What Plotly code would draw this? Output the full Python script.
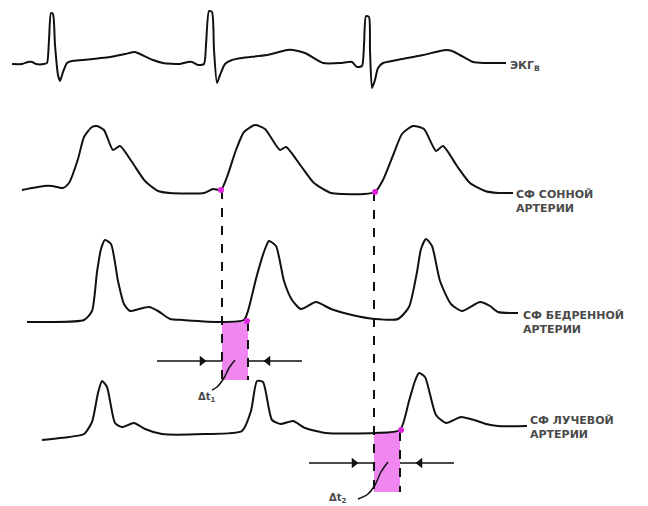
"""ECG and pulse waveforms (carotid, femoral, radial) with pulse transit delays."""

import plotly.graph_objects as go

# --- traced waveforms (page pixel coordinates, y grows downward) ---
ECG_X = [12, 22, 28, 32, 36, 44, 47, 49, 51, 53, 55, 58, 60, 63, 67, 72, 83, 110, 125, 135, 140, 153,
         163, 180, 188, 192, 198, 204, 206, 209, 212, 214, 217, 220, 225, 232, 242, 267, 287, 293, 305,
         323, 340, 348, 352, 357, 362, 364, 366, 369, 370, 372, 375, 378, 383, 397, 423, 440, 447, 452,
         460, 473, 485, 506]
ECG_Y = [64, 64, 62, 62, 64, 64, 63, 40, 13, 14, 45, 75, 81, 72, 63, 61, 60, 57, 54, 52, 54, 60,
         63, 64, 62, 62, 65, 64, 45, 11, 12, 50, 83, 75, 64, 60, 58, 55, 50, 50, 53,
         63, 63, 62, 62, 67, 66, 45, 16, 17, 50, 88, 80, 68, 63, 60, 55, 51, 50, 51,
         55, 62, 63, 63]

CAROTID_X = [22, 44, 52, 63, 69, 78, 84, 92, 97, 104, 113, 120, 132, 145, 158, 170, 204, 213, 221,
             227, 236, 244, 255, 265, 280, 286, 301, 314, 331, 343, 364, 375,
             383, 394, 402, 413, 424, 436, 443, 457, 470, 485, 498, 513]
CAROTID_Y = [190, 186, 186, 188, 183, 159, 137, 127, 126, 130, 150, 146, 162, 181, 191, 193, 193, 189, 190,
             177, 150, 132, 125, 129, 150, 147, 166, 183, 193, 194, 194, 192,
             180, 153, 134, 126, 129, 151, 146, 166, 183, 191, 193, 193]

FEMORAL_X = [27, 48, 84, 92, 97, 101, 105, 111, 118, 124, 130, 139, 149, 158, 170, 183, 221, 244,
             248, 257, 265, 269, 276, 284, 292, 301, 316, 331, 352, 375, 398,
             409, 417, 421, 426, 432, 440, 451, 462, 480, 490, 498, 518]
FEMORAL_Y = [322, 322, 320, 311, 272, 249, 240, 244, 281, 304, 311, 309, 307, 311, 319, 320, 322, 320,
             311, 275, 249, 241, 246, 281, 300, 309, 302, 309, 315, 319, 319,
             307, 272, 249, 239, 246, 281, 304, 311, 302, 306, 312, 313]

RADIAL_X = [42, 69, 84, 92, 98, 102, 107, 115, 122, 134, 145, 162, 204, 242, 251, 257, 263, 272, 281,
            293, 305, 326, 375, 400, 409, 415, 419, 425, 436, 446, 461, 474, 486, 498, 527]
RADIAL_Y = [440, 437, 434, 422, 393, 381, 387, 423, 427, 423, 429, 434, 434, 431, 411, 381, 382, 420, 424,
            421, 428, 433, 433, 430, 401, 381, 373, 377, 415, 423, 417, 420, 424, 426, 426]

# onset points of the pulse waves
ONSET_X = [221, 375, 247, 401]
ONSET_Y = [190, 192, 321, 430]

# transit-delay windows
DELAY_LEFT = [222, 374]
DELAY_RIGHT = [248, 400]
DELAY_TOP = [322, 432]
DELAY_BOTTOM = [380, 492]
ARROW_Y = [361, 463]
DELAY_LABELS = ["Δt<sub>1</sub>", "Δt<sub>2</sub>"]

TRACE_LABELS = ["ЭКГ<sub>В</sub>", "СФ СОННОЙ<br>АРТЕРИИ", "СФ БЕДРЕННОЙ<br>АРТЕРИИ", "СФ ЛУЧЕВОЙ<br>АРТЕРИИ"]

LINE = dict(color="#111111", width=2)
PINK = "#f086f0"
MAGENTA = "#e021e0"

# the page body has an 8 px margin; the axes are set so data units equal page pixels
PAGE_W, PAGE_H, BODY_MARGIN = 648, 506, 8

fig = go.Figure()

# pink delay windows
for left, right, top, bottom in zip(DELAY_LEFT, DELAY_RIGHT, DELAY_TOP, DELAY_BOTTOM):
    fig.add_trace(go.Scatter(
        x=[left, right, right, left, left], y=[top, top, bottom, bottom, top],
        mode="lines", fill="toself", fillcolor=PINK, line=dict(width=0),
        hoverinfo="skip", showlegend=False,
    ))

# dashed guide lines from the carotid onset down through each window
fig.add_trace(go.Scatter(
    x=[DELAY_LEFT[0], DELAY_LEFT[0], None, DELAY_RIGHT[0], DELAY_RIGHT[0],
       None, DELAY_LEFT[1], DELAY_LEFT[1], None, DELAY_RIGHT[1], DELAY_RIGHT[1]],
    y=[ONSET_Y[0], DELAY_BOTTOM[0], None, DELAY_TOP[0], DELAY_BOTTOM[0],
       None, ONSET_Y[1], DELAY_BOTTOM[1], None, DELAY_TOP[1], DELAY_BOTTOM[1]],
    mode="lines", line=dict(color="#111111", width=2, dash="dash"),
    hoverinfo="skip", showlegend=False,
))

# waveforms
for xs, ys in [(ECG_X, ECG_Y), (CAROTID_X, CAROTID_Y), (FEMORAL_X, FEMORAL_Y), (RADIAL_X, RADIAL_Y)]:
    fig.add_trace(go.Scatter(x=xs, y=ys, mode="lines", line=dict(LINE, shape="spline", smoothing=0.6),
                             hoverinfo="skip", showlegend=False))

# measuring arrows  →|  |←
for left, right, ay in zip(DELAY_LEFT, DELAY_RIGHT, ARROW_Y):
    fig.add_trace(go.Scatter(
        x=[left - 65, left, None, right, right + 54], y=[ay, ay, None, ay, ay],
        mode="lines", line=dict(color="#111111", width=1.5), hoverinfo="skip", showlegend=False,
    ))
    fig.add_trace(go.Scatter(
        x=[left - 20, right + 20], y=[ay, ay], mode="markers",
        marker=dict(symbol=["triangle-right", "triangle-left"], size=9, color="#111111"),
        hoverinfo="skip", showlegend=False,
    ))

# leader lines to the Δt labels
fig.add_trace(go.Scatter(
    x=[235, 229, 224, 217, 212, None, 388, 381, 375, 368, 358],
    y=[360, 368, 378, 387, 390, None, 462, 472, 485, 494, 499],
    mode="lines", line=dict(color="#111111", width=1.5, shape="spline"),
    hoverinfo="skip", showlegend=False,
))

# onset dots
fig.add_trace(go.Scatter(x=ONSET_X, y=ONSET_Y, mode="markers",
                         marker=dict(color=MAGENTA, size=6), hoverinfo="skip", showlegend=False))

font = dict(family="DejaVu Sans", size=11, color="#4a4a4a", weight="bold")
for text, (lx, ly) in zip(TRACE_LABELS, [(508, 66), (514, 201), (521, 322), (528, 427)]):
    fig.add_annotation(x=lx, y=ly, text=text, showarrow=False, xanchor="left", yanchor="middle",
                       align="left", font=font)
for text, (lx, ly) in zip(DELAY_LABELS, [(207, 397), (338, 498)]):
    fig.add_annotation(x=lx, y=ly, text=text, showarrow=False,
                       font=dict(family="DejaVu Sans", size=10, color="#4a4a4a", weight="bold"))

fig.update_layout(
    width=PAGE_W - BODY_MARGIN, height=PAGE_H - BODY_MARGIN,
    margin=dict(l=0, r=0, t=0, b=0),
    plot_bgcolor="white", paper_bgcolor="white",
    xaxis=dict(range=[BODY_MARGIN, PAGE_W], visible=False, fixedrange=True),
    yaxis=dict(range=[PAGE_H, BODY_MARGIN], visible=False, fixedrange=True),
)

fig.write_html("out.html")
